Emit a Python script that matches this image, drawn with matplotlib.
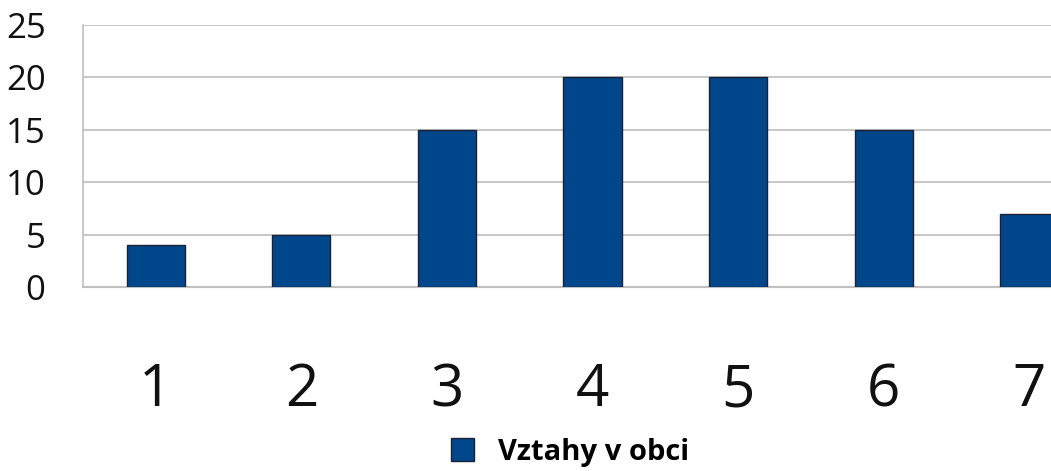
import matplotlib
matplotlib.use("Agg")
from matplotlib import pyplot as plt
from matplotlib.patches import Patch

# data
kategorie = ["1", "2", "3", "4", "5", "6", "7"]
hodnoty = [4, 5, 15, 20, 20, 15, 7]
nazev_rady = "Vztahy v obci"

plt.rcParams['font.family'] = ['Open Sans', 'DejaVu Sans']

fig = plt.figure(figsize=(10.51, 4.71), dpi=100)
# plot area runs past the right edge, like in the original picture
ax = fig.add_axes([83 / 1051, (471 - 287) / 471, (1102 - 83) / 1051, (287 - 25) / 471])

x = list(range(len(kategorie)))
ax.bar(x, hodnoty, width=0.4, color="#00468b", edgecolor="#1c2233", linewidth=1, zorder=3)

ax.set_xlim(-0.5, len(kategorie) - 0.5)
ax.set_ylim(0, 25)
ax.set_yticks([0, 5, 10, 15, 20, 25])
ax.set_xticks(x)
ax.set_xticklabels(kategorie)

ax.grid(axis="y", color="#c8c8c8", linewidth=1.5, zorder=0)
for s in ["top", "right"]:
    ax.spines[s].set_visible(False)
ax.spines["left"].set_color("#c0c0c0")
ax.spines["bottom"].set_color("#c0c0c0")
ax.spines["left"].set_linewidth(1.2)
ax.spines["bottom"].set_linewidth(1.5)

ax.tick_params(axis="y", length=0, pad=27, labelsize=25, labelcolor="#111111")
ax.tick_params(axis="x", length=0, pad=54, labelsize=42, labelcolor="#111111")

handle = Patch(facecolor="#00468b", edgecolor="#1c2233", linewidth=1)
fig.legend([handle], [nazev_rady], loc="center", bbox_to_anchor=(570 / 1051, 0.04),
           frameon=False, prop={"size": 21, "weight": "bold"},
           handlelength=0.8, handleheight=0.8, handletextpad=0.8)

fig.savefig("out.png", dpi=100)
